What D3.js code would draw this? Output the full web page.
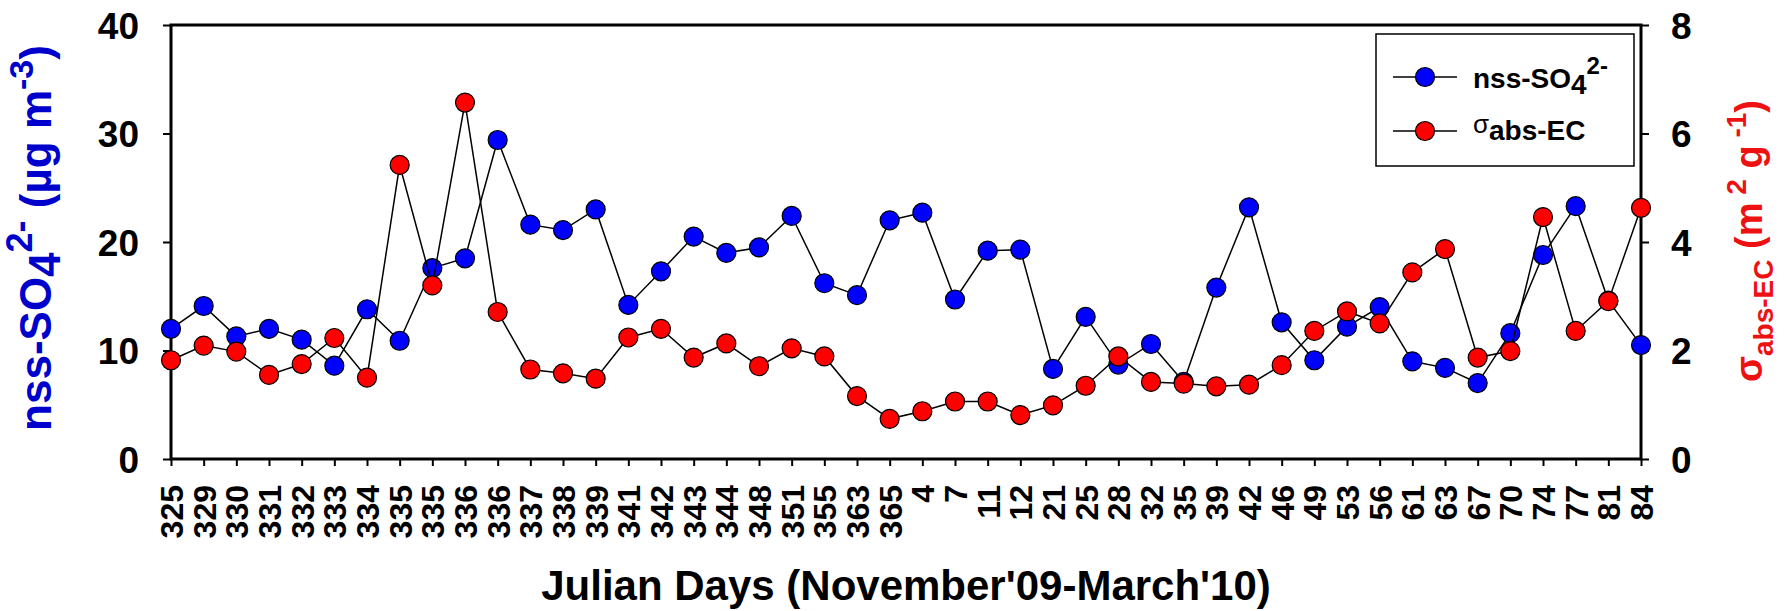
<!DOCTYPE html>
<html>
<head>
<meta charset="utf-8">
<script src="https://cdn.jsdelivr.net/npm/d3@7"></script>
<style>
  body { margin: 0; background: #fff; }
  svg { display: block; }
  text { font-family: "Liberation Sans", Arial, Helvetica, sans-serif; }
</style>
</head>
<body>
<svg id="chart" width="1787" height="611"></svg>
<script>
// Sampling days (Julian day of year), Nov 2009 - Mar 2010
const days = ["325","329","330","331","332","333","334","335","335","336","336","337","338","339",
  "341","342","343","344","348","351","355","363","365","4","7","11","12","21","25","28","32","35",
  "39","42","46","49","53","56","61","63","67","70","74","77","81","84"];

// nss-SO4 2- (µg m-3), left axis
const sulfate = [12.0,14.1,11.3,12.0,11.0,8.6,13.8,10.9,17.6,18.5,29.4,21.6,21.1,23.0,
  14.2,17.3,20.5,19.0,19.5,22.4,16.2,15.1,22.0,22.7,14.7,19.2,19.3,8.3,13.1,8.7,10.6,7.1,
  15.8,23.2,12.6,9.1,12.2,14.0,9.0,8.4,7.0,11.6,18.8,23.3,14.6,10.5];

// sigma abs-EC (m2 g-1), right axis
const absEC = [1.82,2.09,1.98,1.55,1.75,2.23,1.50,5.42,3.20,6.57,2.71,1.65,1.58,1.48,
  2.24,2.40,1.87,2.13,1.71,2.04,1.89,1.16,0.74,0.88,1.06,1.06,0.81,0.99,1.35,1.89,1.42,1.39,
  1.34,1.37,1.73,2.36,2.72,2.50,3.44,3.87,1.87,1.99,4.46,2.36,2.91,4.63];

const leftTicks = [0, 10, 20, 30, 40];
const rightTicks = [0, 2, 4, 6, 8];

const plot = { left: 171, right: 1641, top: 25, bottom: 459 };
const blue = "#0000ff", red = "#ff0000";
const svg = d3.select("#chart");

const x = d3.scalePoint().domain(d3.range(days.length)).range([plot.left, plot.right]);
const yL = d3.scaleLinear().domain([0, 40]).range([plot.bottom, plot.top]);
const yR = d3.scaleLinear().domain([0, 8]).range([plot.bottom, plot.top]);

// axes
const axL = svg.append("g").attr("transform", `translate(${plot.left},0)`)
  .call(d3.axisLeft(yL).tickValues(leftTicks).tickSize(8).tickSizeOuter(0).tickPadding(24));
const axR = svg.append("g").attr("transform", `translate(${plot.right},0)`)
  .call(d3.axisRight(yR).tickValues(rightTicks).tickSize(8).tickSizeOuter(0).tickPadding(22));
const axB = svg.append("g").attr("transform", `translate(0,${plot.bottom})`)
  .call(d3.axisBottom(x).tickFormat(i => days[i]).tickSize(7).tickSizeOuter(0));

[axL, axR, axB].forEach(a => {
  a.select(".domain").remove();
  a.selectAll(".tick line").attr("stroke", "#000").attr("stroke-width", 2);
});
[axL, axR].forEach(a => a.selectAll(".tick text")
  .attr("font-size", 37).attr("font-weight", "bold").attr("fill", "#000").attr("dy", "0.36em"));
axB.selectAll(".tick text")
  .attr("transform", "rotate(-90)")
  .attr("x", -26).attr("y", 0).attr("dy", "0.36em")
  .attr("text-anchor", "end")
  .attr("font-size", 32).attr("font-weight", "bold").attr("fill", "#000");

// frame
svg.append("rect")
  .attr("x", plot.left).attr("y", plot.top)
  .attr("width", plot.right - plot.left).attr("height", plot.bottom - plot.top)
  .attr("fill", "none").attr("stroke", "#000").attr("stroke-width", 3);

// series
function drawSeries(values, yScale, color) {
  const line = d3.line().x((d, i) => x(i)).y(d => yScale(d));
  svg.append("path").datum(values)
    .attr("d", line).attr("fill", "none").attr("stroke", "#000").attr("stroke-width", 1.5);
  svg.append("g").selectAll("circle").data(values).join("circle")
    .attr("cx", (d, i) => x(i)).attr("cy", d => yScale(d)).attr("r", 9.5)
    .attr("fill", color).attr("stroke", "#000").attr("stroke-width", 1.2);
}
drawSeries(sulfate, yL, blue);
drawSeries(absEC, yR, red);

// left axis title
const tL = svg.append("text")
  .attr("transform", "translate(51,238) rotate(-90)")
  .attr("text-anchor", "middle").attr("font-size", 44).attr("font-weight", "bold").attr("fill", "#0000cc");
tL.append("tspan").text("nss-SO");
tL.append("tspan").attr("dy", 9).text("4");
tL.append("tspan").attr("dy", -28).attr("font-size", 36).text("2-");
tL.append("tspan").attr("dy", 19).text(" (µg m");
tL.append("tspan").attr("dy", -18).attr("font-size", 34).text("-3");
tL.append("tspan").attr("dy", 18).text(")");

// right axis title
const tR = svg.append("text")
  .attr("transform", "translate(1762,241) rotate(-90)")
  .attr("text-anchor", "middle").attr("font-size", 38).attr("font-weight", "bold").attr("fill", "#ee1111");
tR.append("tspan").text("σ");
tR.append("tspan").attr("dy", 11).attr("font-size", 28).text("abs-EC");
tR.append("tspan").attr("dy", -11).text(" (m");
tR.append("tspan").attr("dy", -16).attr("font-size", 28).text(" 2");
tR.append("tspan").attr("dy", 16).text(" g");
tR.append("tspan").attr("dy", -16).attr("font-size", 28).text(" -1");
tR.append("tspan").attr("dy", 16).text(")");

// x axis title
svg.append("text")
  .attr("x", (plot.left + plot.right) / 2).attr("y", 600)
  .attr("text-anchor", "middle").attr("font-size", 42).attr("font-weight", "bold").attr("fill", "#000")
  .text("Julian Days (November'09-March'10)");

// legend
const lg = svg.append("g");
lg.append("rect").attr("x", 1376).attr("y", 34).attr("width", 258).attr("height", 132)
  .attr("fill", "#fff").attr("stroke", "#000").attr("stroke-width", 1.5);
const entries = [
  { color: blue, cy: 77 },
  { color: red, cy: 131 }
];
entries.forEach(e => {
  lg.append("line").attr("x1", 1393).attr("x2", 1457).attr("y1", e.cy).attr("y2", e.cy)
    .attr("stroke", "#000").attr("stroke-width", 1.5);
  lg.append("circle").attr("cx", 1425).attr("cy", e.cy).attr("r", 9.5)
    .attr("fill", e.color).attr("stroke", "#000").attr("stroke-width", 1.2);
});
const l1 = lg.append("text").attr("x", 1473).attr("y", 88)
  .attr("font-size", 28).attr("font-weight", "bold").attr("fill", "#000");
l1.append("tspan").text("nss-SO");
l1.append("tspan").attr("dy", 6).text("4");
l1.append("tspan").attr("dy", -20).attr("font-size", 24).text("2-");
const l2 = lg.append("text").attr("x", 1473).attr("y", 133)
  .attr("font-size", 28).attr("fill", "#000");
l2.append("tspan").attr("font-size", 26).text("σ");
l2.append("tspan").attr("dy", 7).attr("font-weight", "bold").text("abs-EC");
</script>
</body>
</html>
